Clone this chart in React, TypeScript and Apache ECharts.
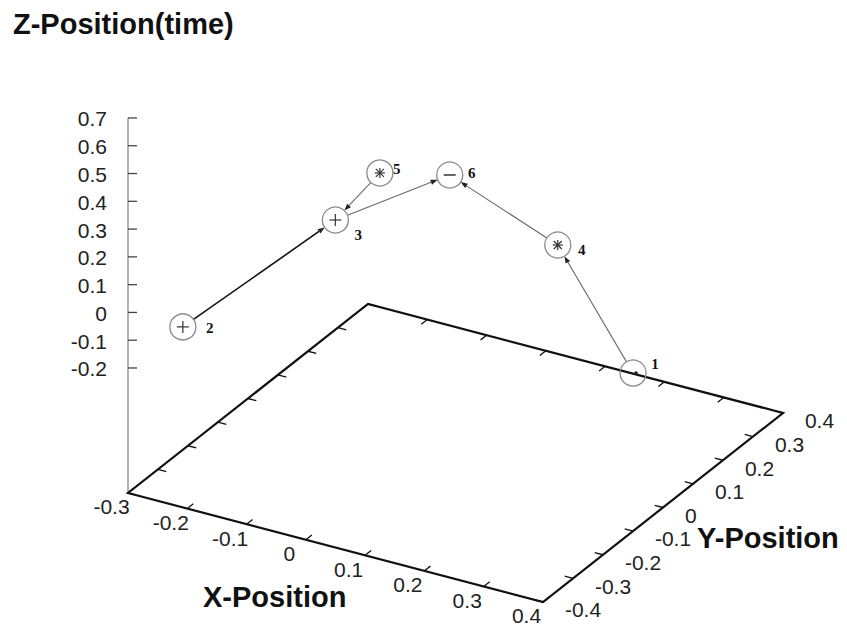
import React, { useEffect, useRef } from "react";
import * as echarts from "echarts";

// ---------- data ----------
const X_RANGE = [-0.3, 0.4];
const Y_RANGE = [-0.4, 0.4];
const Z_RANGE = [-0.2, 0.7];
const TICS_LEVEL = 0.5;

const X_TICKS = [-0.3, -0.2, -0.1, 0, 0.1, 0.2, 0.3, 0.4];
const X_TICK_LABELS = ["-0.3", "-0.2", "-0.1", "0", "0.1", "0.2", "0.3", "0.4"];
const Y_TICKS = [-0.4, -0.3, -0.2, -0.1, 0, 0.1, 0.2, 0.3, 0.4];
const Y_TICK_LABELS = ["-0.4", "-0.3", "-0.2", "-0.1", "0", "0.1", "0.2", "0.3", "0.4"];
const Z_TICKS = [-0.2, -0.1, 0, 0.1, 0.2, 0.3, 0.4, 0.5, 0.6, 0.7];
const Z_TICK_LABELS = ["-0.2", "-0.1", "0", "0.1", "0.2", "0.3", "0.4", "0.5", "0.6", "0.7"];

const POINT_IDS = ["1", "2", "3", "4", "5", "6"];
const POINT_X = [0.347, -0.252, -0.097, 0.18, -0.027, 0.02];
const POINT_Y = [0.005, -0.312, -0.11, 0.084, -0.1, 0.04];
const POINT_Z = [-0.2, -0.1, 0.2, 0.1, 0.4, 0.3];
const POINT_MARKS = ["dot", "plus", "plus", "star", "star", "minus"];

const EDGE_FROM = ["2", "5", "3", "4", "1"];
const EDGE_TO = ["3", "3", "6", "6", "4"];

// ---------- layout / style ----------
const W = 847;
const H = 630;
const ORIGIN = [128, 493]; // screen position of (xmin, ymin, base)
const X_SPAN_VEC = [415, 109]; // screen vector of the full x range
const Y_SPAN_VEC = [240, -189]; // screen vector of the full y range
const Z_PX_PER_UNIT = 277.8;
const LABEL_NUDGE: Record<string, number[]> = {
  "1": [22, -9],
  "2": [27, 1],
  "3": [23, 15],
  "4": [24, 5],
  "5": [17, -4],
  "6": [22, -2],
};
const EDGE_STYLE: Record<string, { stroke: string; lineWidth: number }> = {
  "2-3": { stroke: "#111", lineWidth: 1.6 },
};
const R = 13;
const TICK_FONT = '21px "Liberation Sans", Arial, sans-serif';
const TITLE_FONT = 'bold 29px "Liberation Sans", Arial, sans-serif';
const ID_FONT = 'bold 15px "Liberation Serif", "DejaVu Serif", serif';

const zBase = Z_RANGE[0] - TICS_LEVEL * (Z_RANGE[1] - Z_RANGE[0]);

function project(x: number, y: number, z: number): number[] {
  const u = (x - X_RANGE[0]) / (X_RANGE[1] - X_RANGE[0]);
  const v = (y - Y_RANGE[0]) / (Y_RANGE[1] - Y_RANGE[0]);
  return [
    ORIGIN[0] + u * X_SPAN_VEC[0] + v * Y_SPAN_VEC[0],
    ORIGIN[1] + u * X_SPAN_VEC[1] + v * Y_SPAN_VEC[1] - (z - zBase) * Z_PX_PER_UNIT,
  ];
}

function seg(a: number[], b: number[], stroke: string, lineWidth: number) {
  return {
    type: "line",
    shape: { x1: a[0], y1: a[1], x2: b[0], y2: b[1] },
    style: { stroke, lineWidth, fill: "none" },
  };
}

function label(p: number[], text: string, align: string, font = TICK_FONT, fill = "#222") {
  return {
    type: "text",
    x: p[0],
    y: p[1],
    style: { text, font, fill, align, verticalAlign: "middle" },
  };
}

export default function App() {
  const ref = useRef<HTMLDivElement>(null);

  useEffect(() => {
    if (!ref.current) return;
    const chart = echarts.init(ref.current, null, { renderer: "svg" });
    const idx = (id: string) => POINT_IDS.indexOf(id);

    const option: any = {
      animation: false,
      backgroundColor: "#fff",
      grid: { left: 0, right: 0, top: 0, bottom: 0 },
      xAxis: { type: "value", min: 0, max: W, show: false },
      yAxis: { type: "value", min: 0, max: H, inverse: true, show: false },
      graphic: [
        {
          type: "text",
          x: 13,
          y: 24,
          style: { text: "Z-Position(time)", font: TITLE_FONT, fill: "#111", align: "left", verticalAlign: "middle" },
        },
        {
          type: "text",
          x: 203,
          y: 597,
          style: { text: "X-Position", font: TITLE_FONT, fill: "#111", align: "left", verticalAlign: "middle" },
        },
        {
          type: "text",
          x: 697,
          y: 538,
          style: { text: "Y-Position", font: TITLE_FONT, fill: "#111", align: "left", verticalAlign: "middle" },
        },
      ],
      series: [
        // base frame
        {
          type: "custom",
          coordinateSystem: "cartesian2d",
          silent: true,
          data: [[0, 0]],
          renderItem: (_p: any, api: any) => {
            const pts = [
              project(X_RANGE[0], Y_RANGE[0], zBase),
              project(X_RANGE[1], Y_RANGE[0], zBase),
              project(X_RANGE[1], Y_RANGE[1], zBase),
              project(X_RANGE[0], Y_RANGE[1], zBase),
            ].map((q) => api.coord(q));
            const zTop = api.coord(project(X_RANGE[0], Y_RANGE[0], Z_RANGE[1]));
            return {
              type: "group",
              children: [
                seg(zTop, pts[0], "#9a9a9a", 1.5),
                {
                  type: "polygon",
                  shape: { points: pts },
                  style: { fill: "none", stroke: "#111", lineWidth: 2.2 },
                },
              ],
            };
          },
        },
        // x ticks
        {
          type: "custom",
          coordinateSystem: "cartesian2d",
          silent: true,
          data: X_TICKS.map((t) => [t, 0]),
          renderItem: (params: any, api: any) => {
            const t = X_TICKS[params.dataIndex];
            const tl = 0.02;
            const a = api.coord(project(t, Y_RANGE[0], zBase));
            const a2 = api.coord(project(t, Y_RANGE[0] + tl, zBase));
            const b = api.coord(project(t, Y_RANGE[1], zBase));
            const b2 = api.coord(project(t, Y_RANGE[1] - tl, zBase));
            const lp = api.coord(project(t, Y_RANGE[0] - 0.055, zBase));
            return {
              type: "group",
              children: [
                seg(a, a2, "#111", 1.3),
                seg(b, b2, "#111", 1.3),
                label([lp[0], lp[1] + 1], X_TICK_LABELS[params.dataIndex], "center"),
              ],
            };
          },
        },
        // y ticks
        {
          type: "custom",
          coordinateSystem: "cartesian2d",
          silent: true,
          data: Y_TICKS.map((t) => [t, 0]),
          renderItem: (params: any, api: any) => {
            const t = Y_TICKS[params.dataIndex];
            const tl = 0.014;
            const a = api.coord(project(X_RANGE[1], t, zBase));
            const a2 = api.coord(project(X_RANGE[1] - tl, t, zBase));
            const b = api.coord(project(X_RANGE[0], t, zBase));
            const b2 = api.coord(project(X_RANGE[0] + tl, t, zBase));
            const lp = api.coord(project(X_RANGE[1] + 0.037, t, zBase));
            return {
              type: "group",
              children: [
                seg(a, a2, "#111", 1.3),
                seg(b, b2, "#111", 1.3),
                label([lp[0], lp[1] + 2], Y_TICK_LABELS[params.dataIndex], "left"),
              ],
            };
          },
        },
        // z ticks
        {
          type: "custom",
          coordinateSystem: "cartesian2d",
          silent: true,
          data: Z_TICKS.map((t) => [0, t]),
          renderItem: (params: any, api: any) => {
            const t = Z_TICKS[params.dataIndex];
            const a = api.coord(project(X_RANGE[0], Y_RANGE[0], t));
            return {
              type: "group",
              children: [
                seg(a, [a[0] + 9, a[1]], "#444", 1.3),
                label([a[0] - 21, a[1] + 1], Z_TICK_LABELS[params.dataIndex], "right"),
              ],
            };
          },
        },
        // arrows
        {
          type: "custom",
          coordinateSystem: "cartesian2d",
          silent: true,
          data: EDGE_FROM.map((f, i) => [i, 0]),
          renderItem: (params: any, api: any) => {
            const i = params.dataIndex;
            const f = idx(EDGE_FROM[i]);
            const t = idx(EDGE_TO[i]);
            const p1 = api.coord(project(POINT_X[f], POINT_Y[f], POINT_Z[f]));
            const p2 = api.coord(project(POINT_X[t], POINT_Y[t], POINT_Z[t]));
            const dx = p2[0] - p1[0];
            const dy = p2[1] - p1[1];
            const len = Math.hypot(dx, dy);
            const ux = dx / len;
            const uy = dy / len;
            const s = [p1[0] + ux * R, p1[1] + uy * R];
            const e = [p2[0] - ux * R, p2[1] - uy * R];
            const st = EDGE_STYLE[EDGE_FROM[i] + "-" + EDGE_TO[i]] || { stroke: "#6a6a6a", lineWidth: 1.1 };
            const hl = 7;
            const hw = 2.6;
            const bx = e[0] - ux * hl;
            const by = e[1] - uy * hl;
            return {
              type: "group",
              children: [
                seg(s, [bx, by], st.stroke, st.lineWidth),
                {
                  type: "polygon",
                  shape: {
                    points: [
                      [e[0], e[1]],
                      [bx - uy * hw, by + ux * hw],
                      [bx + uy * hw, by - ux * hw],
                    ],
                  },
                  style: { fill: "#222", stroke: "none" },
                },
              ],
            };
          },
        },
        // points
        {
          type: "custom",
          coordinateSystem: "cartesian2d",
          silent: true,
          data: POINT_X.map((x, i) => [x, POINT_Y[i]]),
          renderItem: (params: any, api: any) => {
            const i = params.dataIndex;
            const c = api.coord(project(POINT_X[i], POINT_Y[i], POINT_Z[i]));
            const mark = POINT_MARKS[i];
            const kids: any[] = [
              {
                type: "circle",
                shape: { cx: c[0], cy: c[1], r: R },
                style: { fill: "none", stroke: "#8a8a8a", lineWidth: 1.3 },
              },
            ];
            const mc = "#333";
            if (mark === "plus" || mark === "star") {
              const h = mark === "plus" ? 6 : 5;
              kids.push(seg([c[0] - h, c[1]], [c[0] + h, c[1]], mc, 1.2));
              kids.push(seg([c[0], c[1] - h], [c[0], c[1] + h], mc, 1.2));
            }
            if (mark === "star") {
              const d = 4;
              kids.push(seg([c[0] - d, c[1] - d], [c[0] + d, c[1] + d], mc, 1.2));
              kids.push(seg([c[0] - d, c[1] + d], [c[0] + d, c[1] - d], mc, 1.2));
            }
            if (mark === "minus") {
              kids.push(seg([c[0] - 6, c[1]], [c[0] + 6, c[1]], mc, 1.5));
            }
            if (mark === "dot") {
              kids.push({ type: "circle", shape: { cx: c[0] + 3, cy: c[1], r: 1.8 }, style: { fill: "#222" } });
            }
            const n = LABEL_NUDGE[POINT_IDS[i]] || [22, 0];
            kids.push(label([c[0] + n[0], c[1] + n[1]], POINT_IDS[i], "center", ID_FONT, "#111"));
            return { type: "group", children: kids };
          },
        },
      ],
    };

    chart.setOption(option);
    return () => chart.dispose();
  }, []);

  return (
    <div
      ref={ref}
      style={{ position: "fixed", left: 0, top: 0, width: W, height: H, background: "#fff" }}
    />
  );
}
